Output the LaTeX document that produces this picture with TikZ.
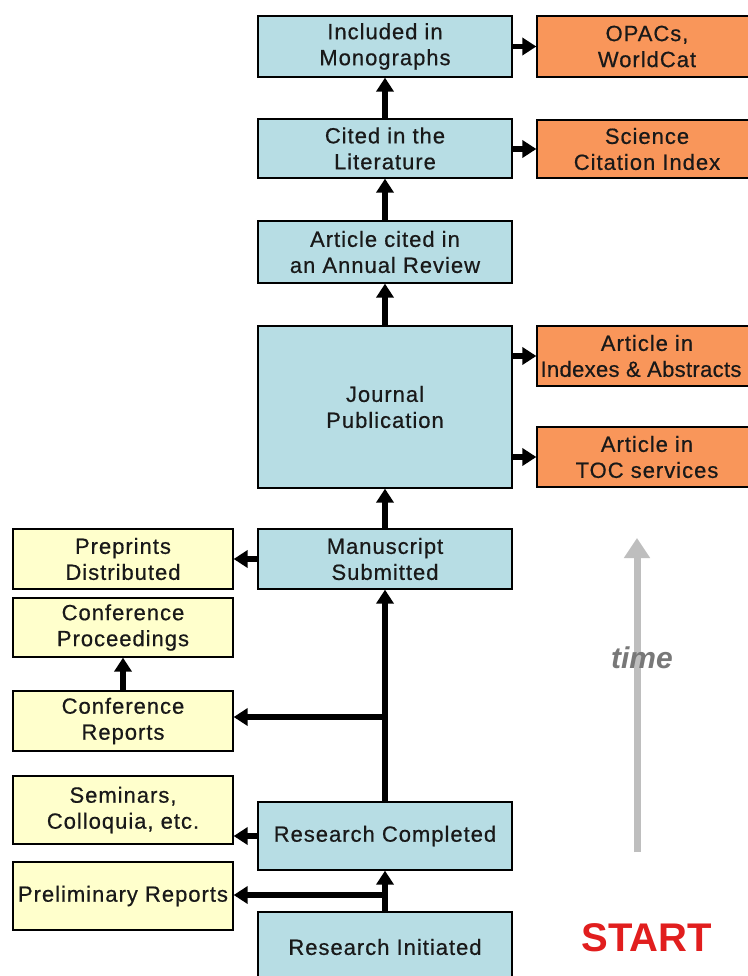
\documentclass[tikz,border=0pt]{standalone}
\usepackage{fontspec}
\setmainfont{Liberation Sans}
\newfontfamily\boxfont[LetterSpace=4.5,FakeBold=0.6]{Liberation Sans}
\newfontfamily\tightfont[LetterSpace=1.5,FakeBold=0.6]{Liberation Sans}
\usetikzlibrary{arrows.meta}
\definecolor{bluefill}{RGB}{183,221,228}
\definecolor{orangefill}{RGB}{249,150,90}
\definecolor{yellowfill}{RGB}{255,255,204}
\definecolor{timegray}{RGB}{190,190,190}
\definecolor{timetext}{RGB}{120,120,120}
\definecolor{startred}{RGB}{225,30,30}
\tikzset{
  box/.style={draw=black, line width=1.3pt, align=center, inner sep=0pt,
    font=\boxfont\fontsize{22}{26}\selectfont, text=black!90},
  bluebox/.style={box, fill=bluefill, minimum width=254pt},
  orangebox/.style={box, fill=orangefill, minimum width=220pt},
  yellowbox/.style={box, fill=yellowfill, minimum width=220pt},
  conn/.style={line width=5.5pt, -{Triangle[length=14pt,width=17pt]}},
}
\begin{document}
\begin{tikzpicture}[x=1pt,y=-1pt]
\useasboundingbox (0,0) rectangle (747,976);
\fill[white] (0,0) rectangle (747,976);

% blue column
\node[bluebox, minimum height=61pt] (inc) at (385,46.5) {Included in\\Monographs};
\node[bluebox, minimum height=59pt] (cit) at (385,148.5) {Cited in the\\Literature};
\node[bluebox, minimum height=62pt] (ann) at (385,252) {Article cited in\\an Annual Review};
\node[bluebox, minimum height=162pt] (jou) at (385,407) {Journal\\Publication};
\node[bluebox, minimum height=60pt] (man) at (385,559) {Manuscript\\Submitted};
\node[bluebox, minimum height=68pt] (rc) at (385,836) {Research Completed};
\node[bluebox, minimum height=70pt] (ri) at (385,947) {Research Initiated};

% orange column
\node[orangebox, minimum height=61pt] (opac) at (647,46.5) {OPACs,\\WorldCat};
\node[orangebox, minimum height=58pt] (sci) at (647,149) {Science\\Citation Index};
\node[orangebox, minimum height=60pt] (idx) at (647,356) {Article in\\{\tightfont\fontsize{22}{26}\selectfont Indexes \& Abstracts}\hspace*{12pt}};
\node[orangebox, minimum height=60pt] (toc) at (647,457) {Article in\\TOC services};

% yellow column
\node[yellowbox, minimum height=60pt] (pre) at (123,559) {Preprints\\Distributed};
\node[yellowbox, minimum height=59pt] (proc) at (123,627.5) {Conference\\Proceedings};
\node[yellowbox, minimum height=60pt] (crep) at (123,721) {Conference\\Reports};
\node[yellowbox, minimum height=68pt] (sem) at (123,810) {Seminars,\\Colloquia, etc.};
\node[yellowbox, minimum height=68pt] (prel) at (123,896) {Preliminary Reports};

% main chain
\draw[conn] (cit.north) -- (inc.south);
\draw[conn] (ann.north) -- (cit.south);
\draw[conn] (jou.north) -- (ann.south);
\draw[conn] (man.north) -- (jou.south);
\draw[conn] (rc.north) -- (man.south);
\draw[conn] (ri.north) -- (rc.south);

% side outputs
\draw[conn] (inc.east) -- (opac.west);
\draw[conn] (cit.east |- sci.west) -- (sci.west);
\draw[conn] (jou.east |- idx.west) -- (idx.west);
\draw[conn] (jou.east |- toc.west) -- (toc.west);
\draw[conn] (man.west) -- (pre.east);
\draw[conn] (rc.west) -- (sem.east |- rc.west);
\draw[conn] (crep.north) -- (proc.south);

\coordinate (jc) at (385,717);
\coordinate (jp) at (385,895);
\draw[conn] (jc) -- (crep.east |- jc);
\draw[conn] (jp) -- (prel.east |- jp);

% time arrow
\coordinate (tb) at (637,852);
\coordinate (tt) at (637,538);
\draw[timegray, line width=7pt, -{Triangle[length=20pt,width=25pt]}] (tb) -- (tt);
\node[text=timetext, font=\fontsize{30}{32}\selectfont\bfseries\itshape] (time) at (642,658) {time};

\node[text=startred, font=\fontsize{40}{42}\selectfont\bfseries] (start) at (647,938) {START};
\end{tikzpicture}
\end{document}
